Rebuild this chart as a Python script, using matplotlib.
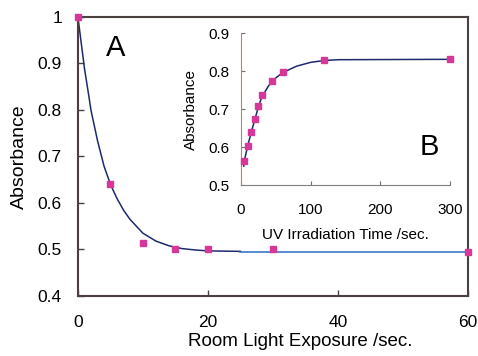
import matplotlib
matplotlib.use("Agg")
import matplotlib.pyplot as plt

plt.rcParams["font.family"] = ["Liberation Sans", "DejaVu Sans"]

# main panel (A): room light exposure
room_t = [0, 5, 10, 15, 20, 30, 60]
room_abs = [1.0, 0.64, 0.515, 0.502, 0.501, 0.502, 0.495]
room_fit_t = [0, 1, 1.7, 2, 3, 4, 5, 6, 7, 8, 10, 12, 14, 16, 18, 20, 25]
room_fit_abs = [1.0, 0.89, 0.828, 0.80, 0.735, 0.68, 0.64, 0.61, 0.585,
                0.565, 0.535, 0.518, 0.508, 0.502, 0.499, 0.497, 0.496]
room_tail_t = [25, 60]
room_tail_abs = [0.495, 0.495]

# inset panel (B): UV irradiation
uv_t = [5, 10, 15, 20, 25, 30, 45, 60, 120, 300]
uv_abs = [0.563, 0.603, 0.640, 0.673, 0.709, 0.738, 0.775, 0.797, 0.829, 0.831]
uv_fit_t = [4, 5, 10, 15, 20, 25, 30, 40, 50, 60, 80, 100, 120, 140, 300]
uv_fit_abs = [0.55, 0.565, 0.605, 0.640, 0.673, 0.705, 0.732, 0.762, 0.782,
              0.796, 0.813, 0.823, 0.828, 0.830, 0.831]

NAVY = "#1c2a6e"
BLUE = "#2a6cc0"
PINK = "#d6389a"
SPINE = "#4a4040"

fig = plt.figure(figsize=(4.78, 3.56), dpi=100)
ax = fig.add_axes([0.163, 0.1685, 0.816, 0.784])
ax.plot(room_fit_t, room_fit_abs, color=NAVY, lw=1.1, zorder=2)
ax.plot(room_tail_t, room_tail_abs, color=BLUE, lw=1.1, zorder=2)
ax.plot(room_t, room_abs, "s", color=PINK, ms=4.5, mec=PINK, zorder=3,
        clip_on=False)
ax.set_xlim(0, 60)
ax.set_ylim(0.4, 1.0)
ax.set_xticks([0, 20, 40, 60])
ax.set_yticks([0.4, 0.5, 0.6, 0.7, 0.8, 0.9, 1.0])
ax.set_yticklabels(["0.4", "0.5", "0.6", "0.7", "0.8", "0.9", "1"])
ax.tick_params(direction="in", length=4, width=1, color=SPINE,
               labelsize=12.5)
ax.tick_params(axis="y", pad=11.5)
ax.tick_params(axis="x", pad=14)
for s in ax.spines.values():
    s.set_color(SPINE)
    s.set_linewidth(1.5)
ax.set_xlabel("Room Light Exposure /sec.", fontsize=13.5, labelpad=2, x=0.57)
ax.set_ylabel("Absorbance", fontsize=14, labelpad=7)
ax.text(5.8, 0.933, "A", fontsize=21, ha="center", va="center")

ins = fig.add_axes([0.504, 0.480, 0.437, 0.427])
ins.plot(uv_fit_t, uv_fit_abs, color=NAVY, lw=1.1, zorder=2)
ins.plot(uv_t, uv_abs, "s", color=PINK, ms=4.5, mec=PINK, zorder=3,
         clip_on=False)
ins.set_xlim(0, 300)
ins.set_ylim(0.5, 0.9)
ins.set_xticks([0, 100, 200, 300])
ins.set_yticks([0.5, 0.6, 0.7, 0.8, 0.9])
ins.tick_params(direction="in", length=3, width=0.8, color="#707070",
                labelsize=11)
ins.tick_params(axis="y", pad=8.5)
ins.tick_params(axis="x", pad=13)
ins.spines[["top", "right"]].set_visible(False)
ins.spines["left"].set_color("#c08060")
ins.spines["bottom"].set_color("#808080")
ins.set_xlabel("UV Irradiation Time /sec.", fontsize=11, labelpad=8)
ins.set_ylabel("Absorbance", fontsize=11, labelpad=7)
ins.text(271, 0.599, "B", fontsize=21, ha="center", va="center")

fig.savefig("out.png", dpi=100)
